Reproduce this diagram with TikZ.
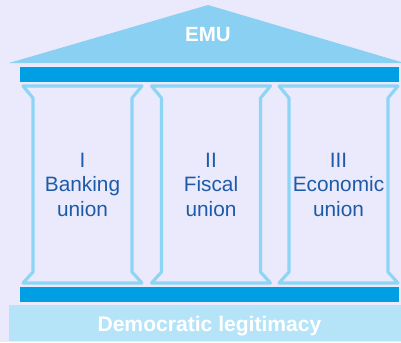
\documentclass[tikz,border=0pt]{standalone}
\usepackage{fontspec}
\setmainfont{Liberation Sans}
\definecolor{bgcol}{HTML}{EAEAFC}
\definecolor{roofcol}{HTML}{8AD0F2}
\definecolor{beamcol}{HTML}{009FE3}
\definecolor{pillarcol}{HTML}{8DD5F5}
\definecolor{basecol}{HTML}{B5E4F8}
\definecolor{textblue}{HTML}{1D5BA8}

\begin{document}
\begin{tikzpicture}[
		x=0.025cm, y=-0.025cm,
		declare function = {
				hw = 59.5;  % half width of a pillar
				inset = 10; % flare of capital and foot
			},
		pillar/.style = {draw=pillarcol, line width=2.2pt, line join=round},
		beam/.style = {fill=beamcol},
		pillartext/.style = {text=textblue, align=center, inner sep=0pt,
				font=\fontsize{14.8}{17.4}\selectfont},
		whitetext/.style = {text=white, inner sep=0pt, font=\fontsize{14.6}{17}\selectfont\bfseries},
	]
	\fill[bgcol, use as bounding box] (0,0) rectangle (401,342);
	% roof
	\fill[roofcol] (9,63) -- (208,5) -- (401,62) -- (401,63) -- cycle;
	\node[whitetext] (emu) at (208,34.5) {EMU};
	% beams
	\fill[beam] (20,67) rectangle (399,82);
	\fill[beam] (20,287) rectangle (399,302);
	% pillars
	\foreach \cx/\nm/\txt in {82.5/banking/{I\\Banking\\union}, 211/fiscal/{II\\Fiscal\\union}, 338.5/economic/{III\\Economic\\union}} {
			\draw[pillar] (\cx-hw,86) -- (\cx+hw,86) -- (\cx+hw-inset,98) -- (\cx+hw-inset,272)
			-- (\cx+hw,283) -- (\cx-hw,283) -- (\cx-hw+inset,272) -- (\cx-hw+inset,98) -- cycle;
			\node[pillartext] (\nm) at (\cx,184.5) {\txt};
		}
	% foundation
	\fill[basecol] (9,305) rectangle (401,341);
	\node[whitetext, anchor=base, font=\fontsize{15}{17}\selectfont\bfseries] (democracy) at (209.5,331) {Democratic legitimacy};
\end{tikzpicture}
\end{document}
